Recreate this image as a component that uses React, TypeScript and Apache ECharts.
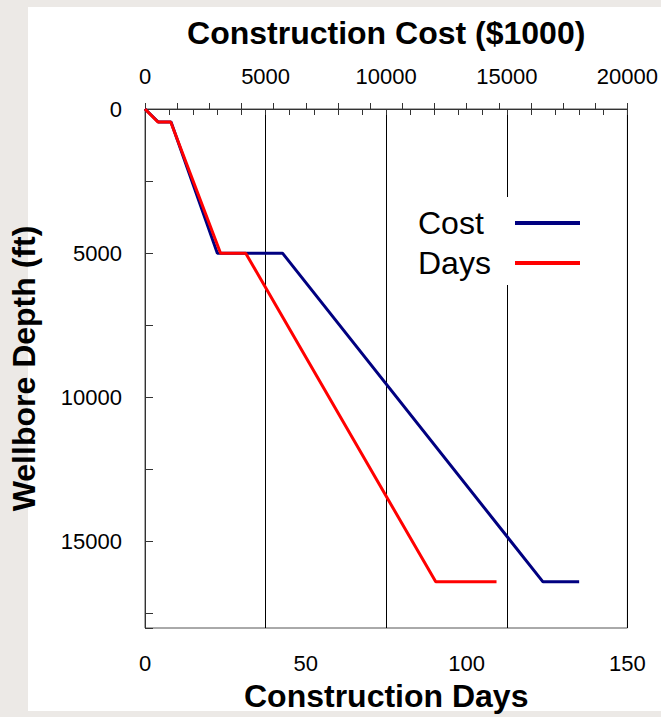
import React, { useEffect, useRef } from "react";
import * as echarts from "echarts";

const seriesNames = ["Cost", "Days"];
// Cost series: construction cost ($1000) vs wellbore depth (ft)
const costValues = [0, 550, 1080, 3000, 5700, 16500, 18000];
const costDepths = [0, 450, 450, 5000, 5000, 16400, 16400];
// Days series: construction days vs wellbore depth (ft)
const dayValues = [0, 4, 8, 23.5, 31.3, 90.4, 109.3];
const dayDepths = [0, 450, 450, 5000, 5000, 16400, 16400];

const FONT = "'Liberation Sans', Arial, Helvetica, sans-serif";

export default function App() {
  const ref = useRef<HTMLDivElement>(null);
  useEffect(() => {
    if (!ref.current) return;
    const chart = echarts.init(ref.current, null, { renderer: "svg" });
    const axisLineStyle = { color: "#333", width: 1 };
    const labelStyle = { color: "#000", fontSize: 22, fontFamily: FONT };
    const nameStyle = { color: "#000", fontSize: 32, fontWeight: "bold" as const, fontFamily: FONT };
    const plain = (v: number) => String(v);
    chart.setOption({
      animation: false,
      backgroundColor: "#ECE9E6",
      textStyle: { fontFamily: FONT },
      graphic: [
        {
          type: "rect",
          z: -10,
          shape: { x: 28, y: 7, width: 640, height: 704 },
          style: { fill: "#ffffff" },
          silent: true,
        },
      ],
      grid: {
        left: 145,
        top: 109,
        right: 32,
        bottom: 88,
        show: true,
        backgroundColor: "transparent",
        borderColor: "#555",
        borderWidth: 1,
      },
      legend: {
        data: seriesNames,
        orient: "vertical",
        left: 406,
        top: 197,
        align: "right",
        icon: "rect",
        itemWidth: 65,
        itemHeight: 4,
        itemGap: 8,
        backgroundColor: "#ffffff",
        padding: [10, 12, 6, 12],
        formatter: (name: string) => `{a|${name}}`,
        textStyle: {
          color: "#000",
          fontSize: 32,
          fontFamily: FONT,
          rich: { a: { width: 92, align: "left", fontSize: 32, fontFamily: FONT, color: "#000" } },
        },
      },
      xAxis: [
        {
          type: "value",
          position: "bottom",
          min: 0,
          max: 150,
          interval: 50,
          name: "Construction Days",
          nameLocation: "middle",
          nameGap: 52,
          nameTextStyle: nameStyle,
          axisLine: { show: true, lineStyle: axisLineStyle },
          axisTick: { show: true, inside: true, length: 6, lineStyle: axisLineStyle },
          minorTick: { show: true, splitNumber: 5, length: 6, lineStyle: axisLineStyle },
          axisLabel: { ...labelStyle, margin: 24, formatter: plain },
          splitLine: { show: false },
        },
        {
          type: "value",
          position: "top",
          min: 0,
          max: 20000,
          interval: 5000,
          name: "Construction Cost ($1000)",
          nameLocation: "middle",
          nameGap: 60,
          nameTextStyle: nameStyle,
          axisLine: { show: true, lineStyle: axisLineStyle },
          axisTick: { show: true, inside: true, length: 6, lineStyle: axisLineStyle },
          minorTick: { show: true, splitNumber: 5, length: 6, lineStyle: axisLineStyle },
          axisLabel: { ...labelStyle, margin: 22, formatter: plain },
          splitLine: { show: true, lineStyle: { color: "#000", width: 1 } },
        },
      ],
      yAxis: {
        type: "value",
        inverse: true,
        min: 0,
        max: 18000,
        interval: 2500,
        name: "Wellbore Depth (ft)",
        nameLocation: "middle",
        nameGap: 105,
        nameTextStyle: nameStyle,
        axisLine: { show: true, lineStyle: axisLineStyle },
        axisTick: { show: true, inside: true, length: 8, lineStyle: axisLineStyle },
        axisLabel: {
          ...labelStyle,
          margin: 23,
          formatter: (v: number) => (v % 5000 === 0 ? String(v) : ""),
        },
        splitLine: { show: false },
      },
      series: [
        {
          name: "Cost",
          type: "line",
          xAxisIndex: 1,
          yAxisIndex: 0,
          data: costValues.map((c, i) => [c, costDepths[i]]),
          showSymbol: false,
          symbol: "none",
          lineStyle: { color: "#000080", width: 3 },
          itemStyle: { color: "#000080" },
        },
        {
          name: "Days",
          type: "line",
          xAxisIndex: 0,
          yAxisIndex: 0,
          data: dayValues.map((d, i) => [d, dayDepths[i]]),
          showSymbol: false,
          symbol: "none",
          lineStyle: { color: "#ff0000", width: 3 },
          itemStyle: { color: "#ff0000" },
        },
      ],
    });
    return () => chart.dispose();
  }, []);
  return (
    <div
      ref={ref}
      style={{ position: "fixed", left: 0, top: 0, width: 661, height: 717 }}
    />
  );
}
